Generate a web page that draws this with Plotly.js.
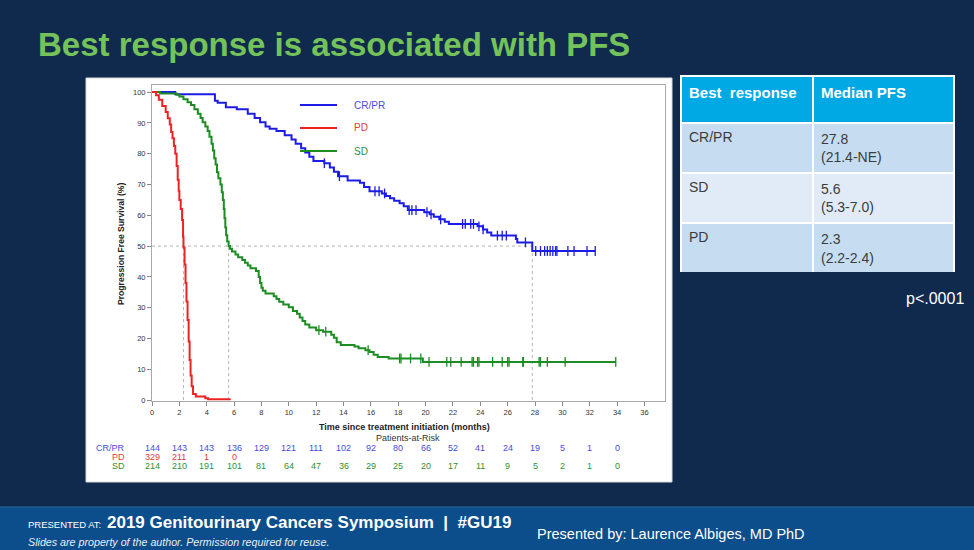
<!DOCTYPE html>
<html>
<head>
<meta charset="utf-8">
<script src="https://cdn.plot.ly/plotly-3.0.1.min.js"></script>
<style>
  html, body { margin: 0; padding: 0; background: #102a4e; }
  #chart { width: 974px; height: 550px; }
</style>
</head>
<body>
<div id="chart"></div>
<script>
// Kaplan-Meier PFS by best response: step points (months, % progression free)
const crprTime = [0, 1.7, 4.6, 4.8, 5.4, 6.2, 7.0, 7.5, 7.9, 8.3, 8.6, 9.1, 9.7, 10.2, 10.5, 10.9, 11.2, 11.5, 11.8, 12.6, 13.0, 13.3, 13.6, 14.3, 15.2, 15.5, 15.9, 16.8, 17.1, 17.4, 17.7, 18.1, 18.4, 18.7, 19.9, 20.3, 20.6, 21.0, 21.4, 21.7, 23.8, 24.2, 24.5, 24.8, 26.6, 26.7, 27.8, 32.4];
const crprSurv = [100, 99.3, 97.2, 96.5, 95.1, 94.4, 93.0, 91.6, 90.2, 88.8, 88.1, 87.4, 86.0, 84.6, 83.2, 81.8, 80.4, 79.0, 77.6, 76.9, 75.5, 74.1, 72.7, 71.3, 70.6, 69.2, 67.8, 67.1, 66.3, 65.5, 64.7, 63.9, 62.9, 61.7, 61.0, 60.3, 59.5, 58.7, 57.9, 57.2, 56.4, 55.4, 54.4, 53.4, 52.3, 51.2, 48.4, 48.4];
const crprCensored = [12.6, 13.7, 16.3, 16.6, 17.0, 18.8, 19.0, 19.3, 20.1, 20.4, 21.1, 22.7, 22.9, 23.3, 23.5, 23.9, 24.2, 25.25, 25.6, 25.9, 27.3, 28.05, 28.4, 28.7, 28.9, 29.1, 29.3, 29.5, 29.6, 30.4, 30.85, 31.8, 32.4];

const pdTime = [0, 0.3, 0.5, 0.75, 1.0, 1.15, 1.3, 1.4, 1.5, 1.6, 1.7, 1.8, 1.88, 1.95, 2.0, 2.1, 2.2, 2.27, 2.3, 2.38, 2.45, 2.52, 2.6, 2.68, 2.75, 2.82, 2.9, 3.0, 3.2, 3.9, 4.1, 5.75];
const pdSurv = [100, 99, 97.5, 95.5, 93.5, 91.5, 89.5, 87, 85, 82.5, 80, 76, 71.5, 68, 65, 62, 58.5, 53, 49.5, 44, 38, 32, 26, 19, 13, 8, 4.5, 2, 1.2, 0.6, 0.3, 0.3];

const sdTime = [0, 0.6, 1.8, 2.0, 2.3, 2.6, 2.85, 3.1, 3.35, 3.55, 3.7, 3.9, 4.07, 4.2, 4.35, 4.45, 4.55, 4.65, 4.75, 4.85, 5.0, 5.1, 5.18, 5.25, 5.3, 5.36, 5.42, 5.5, 5.6, 5.7, 5.85, 6.1, 6.3, 6.6, 6.8, 7.0, 7.2, 7.6, 7.8, 7.9, 8.0, 8.1, 8.3, 8.9, 9.1, 9.3, 9.6, 10.0, 10.3, 10.6, 10.8, 11.0, 11.2, 11.5, 12.0, 12.5, 13.1, 13.3, 13.5, 13.8, 14.8, 15.1, 15.6, 15.9, 16.2, 16.5, 17.3, 19.8, 33.9];
const sdSurv = [100, 99.5, 99.1, 98.6, 97.7, 96.7, 95.8, 94.4, 93.0, 91.6, 90.2, 88.8, 87.4, 85.5, 83.2, 81.0, 78.5, 76.5, 74.0, 72.0, 70.0, 67.5, 65.0, 62.0, 59.0, 56.0, 53.5, 51.5, 50.0, 49.1, 48.2, 47.3, 46.4, 45.5, 44.6, 43.7, 42.8, 41.9, 40.0, 38.0, 36.5, 35.5, 34.6, 33.7, 32.8, 31.9, 31.0, 30.1, 28.9, 28.0, 26.8, 25.7, 24.5, 23.6, 22.7, 22.2, 21.2, 20.2, 18.8, 17.9, 17.4, 16.8, 16.2, 15.6, 14.7, 14.0, 13.5, 12.4, 12.4];
const sdCensored = [12.2, 12.7, 15.8, 18.1, 18.2, 18.9, 19.65, 20.25, 21.55, 21.84, 22.6, 23.4, 23.5, 23.8, 23.9, 24.9, 25.6, 26.0, 26.1, 27.1, 27.15, 28.3, 28.4, 28.9, 30.2, 33.9];

// Median PFS summary (months)
const responseGroups = ['CR/PR', 'SD', 'PD'];
const medianPFS = [27.8, 5.6, 2.3];
const medianCI = ['(21.4-NE)', '(5.3-7.0)', '(2.2-2.4)'];

// Patients-at-risk table
const riskMonths = [0, 2, 4, 6, 8, 10, 12, 14, 16, 18, 20, 22, 24, 26, 28, 30, 32, 34];
const riskCRPR = [144, 143, 143, 136, 129, 121, 111, 102, 92, 80, 66, 52, 41, 24, 19, 5, 1, 0];
const riskPD = [329, 211, 1, 0];
const riskSD = [214, 210, 191, 101, 81, 64, 47, 36, 29, 25, 20, 17, 11, 9, 5, 2, 1, 0];

const xTicks = [0, 2, 4, 6, 8, 10, 12, 14, 16, 18, 20, 22, 24, 26, 28, 30, 32, 34, 36];
const yTicks = [0, 10, 20, 30, 40, 50, 60, 70, 80, 90, 100];

const FONT = 'Liberation Sans, Arial, sans-serif';
const NARROW = 'Liberation Sans Narrow, Arial Narrow, Liberation Sans, sans-serif';
const W = 974, H = 550;
const px = v => v / W;
const py = v => 1 - v / H;

const BLUE = '#1c1ce6', RED = '#ee2222', GREEN = '#1d8c22';
const BLUE_T = '#4a4ad8', RED_T = '#e23a3a', GREEN_T = '#2f9135';

// level of a step curve at time t
function stepAt(times, surv, t) {
  let s = surv[0];
  for (let i = 0; i < times.length; i++) { if (times[i] <= t) s = surv[i]; }
  return s;
}

function curve(times, surv, color) {
  return { type: 'scatter', mode: 'lines', x: times, y: surv, line: { shape: 'hv', color: color, width: 2 },
           hoverinfo: 'skip', showlegend: false, xaxis: 'x', yaxis: 'y' };
}
function censorMarks(times, stepT, stepS, color) {
  return { type: 'scatter', mode: 'markers', x: times, y: times.map(t => stepAt(stepT, stepS, t)),
           marker: { symbol: 'line-ns-open', size: 7, color: color, line: { color: color, width: 1.3 } },
           hoverinfo: 'skip', showlegend: false, xaxis: 'x', yaxis: 'y' };
}

// dashed guides at the medians
const guideX = [], guideY = [];
guideX.push(0, Math.max(...medianPFS), null);
guideY.push(50, 50, null);
medianPFS.forEach(m => { guideX.push(m, m, null); guideY.push(0, 50, null); });
const guides = { type: 'scatter', mode: 'lines', x: guideX, y: guideY,
  line: { color: '#b4b4b4', width: 1, dash: '3px,3px' }, hoverinfo: 'skip', showlegend: false };

// median table
const headerFill = '#00a9e4';
const rowFills = ['#c6dcf0', '#e0ebf7', '#c6dcf0'];
const table = {
  type: 'table',
  domain: { x: [px(681), px(954)], y: [py(272), py(76)] },
  columnwidth: [132, 141],
  header: {
    values: ['<b>Best  response</b>', '<b>Median PFS</b>'],
    align: 'left', height: 47,
    fill: { color: headerFill },
    line: { color: '#ffffff', width: 2 },
    font: { family: FONT, size: 15, color: '#ffffff' }
  },
  cells: {
    values: [responseGroups, medianPFS.map((m, i) => m.toFixed(1) + '<br>' + medianCI[i])],
    align: 'left', height: 48,
    fill: { color: [rowFills, rowFills] },
    line: { color: '#ffffff', width: 2 },
    font: { family: FONT, size: 14, color: '#3c3c3c' }
  }
};

const data = [
  guides,
  curve(crprTime, crprSurv, BLUE),
  curve(sdTime, sdSurv, GREEN),
  curve(pdTime, pdSurv, RED),
  censorMarks(crprCensored, crprTime, crprSurv, BLUE),
  censorMarks(sdCensored, sdTime, sdSurv, GREEN),
  table
];

const annotations = [];
function note(text, x, y, opts) {
  annotations.push(Object.assign({ text: text, x: x, y: y, xref: 'paper', yref: 'paper', showarrow: false,
    xanchor: 'left', yanchor: 'middle', font: { family: FONT, size: 10, color: '#333' } }, opts || {}));
}

// slide title
note('<b>Best response is associated with PFS</b>', px(36), py(45), { font: { family: FONT, size: 33, color: '#74c25a' } });

// axis titles
note('<b>Progression Free Survival (%)</b>', px(121), py(244), { textangle: -90, xanchor: 'center', font: { family: FONT, size: 8.6, color: '#222' } });
note('<b>Time since treatment initiation (months)</b>', px(404), py(427), { xanchor: 'center', font: { family: FONT, size: 9, color: '#222' } });

// legend
const legendItems = [['CR/PR', BLUE, BLUE_T], ['PD', RED, RED_T], ['SD', GREEN, GREEN_T]];
const shapes = [
  // slide panel and footer
  { type: 'rect', xref: 'paper', yref: 'paper', x0: px(86), x1: px(672), y0: py(482), y1: py(78),
    fillcolor: '#ffffff', line: { color: '#d8d8d8', width: 1 }, layer: 'below' },
  { type: 'rect', xref: 'paper', yref: 'paper', x0: 0, x1: 1, y0: 0, y1: py(507),
    fillcolor: '#0c4d8b', line: { width: 0 }, layer: 'below' },
  { type: 'line', xref: 'paper', yref: 'paper', x0: 0, x1: 1, y0: py(507), y1: py(507),
    line: { color: '#2c6aa6', width: 1 }, layer: 'below' }
];
legendItems.forEach((it, i) => {
  const yy = py(105 + 23 * i);
  shapes.push({ type: 'line', xref: 'paper', yref: 'paper', x0: px(300), x1: px(337), y0: yy, y1: yy,
    line: { color: it[1], width: 2 } });
  note(it[0], px(352), yy, { font: { family: FONT, size: 10, color: it[2] } });
});

// patients at risk
note('Patients-at-Risk', px(408), py(438), { xanchor: 'center', font: { family: FONT, size: 9, color: '#333' } });
const riskRows = [['CR/PR', riskCRPR, BLUE_T, 447.5], ['PD', riskPD, RED_T, 456.5], ['SD', riskSD, GREEN_T, 465.5]];
riskRows.forEach(r => {
  note(r[0], px(127), py(r[3]), { xanchor: 'right', font: { family: FONT, size: 9, color: r[2] } });
  r[1].forEach((n, i) => {
    annotations.push({ text: String(n), x: riskMonths[i], y: py(r[3]), xref: 'x', yref: 'paper', showarrow: false,
      xanchor: 'center', yanchor: 'middle', font: { family: FONT, size: 9, color: r[2] } });
  });
});

// p-value
note('p<.0001', px(904), py(298), { font: { family: FONT, size: 16, color: '#ffffff' } });

// footer
note('PRESENTED AT:', px(26), py(524), { font: { family: NARROW, size: 9.5, color: '#ffffff' } });
note('<b>2019 Genitourinary Cancers Symposium  |  #GU19</b>', px(105), py(522), { font: { family: NARROW, size: 17, color: '#ffffff' } });
note('<i>Slides are property of the author. Permission required for reuse.</i>', px(26), py(542), { font: { family: NARROW, size: 10.7, color: '#e8eef6' } });
note('Presented by: Laurence Albiges, MD PhD', px(535), py(534), { font: { family: NARROW, size: 14.5, color: '#ffffff' } });

const axisCommon = {
  showgrid: false, zeroline: false, showline: true, mirror: true, linecolor: '#a9a9a9', linewidth: 1,
  ticks: 'outside', ticklen: 4, tickcolor: '#8a8a8a', tickwidth: 1,
  tickfont: { family: FONT, size: 7.5, color: '#333' }, fixedrange: true
};

const layout = {
  width: W, height: H,
  margin: { l: 0, r: 0, t: 0, b: 0 },
  paper_bgcolor: '#102a4e', plot_bgcolor: '#ffffff',
  showlegend: false,
  xaxis: Object.assign({}, axisCommon, { domain: [px(152), px(665)], range: [0, 37.5], tickvals: xTicks, ticktext: xTicks.map(String) }),
  yaxis: Object.assign({}, axisCommon, { domain: [py(401), py(85)], range: [-0.3, 102.3], tickvals: yTicks, ticktext: yTicks.map(String) }),
  shapes: shapes,
  annotations: annotations
};

Plotly.newPlot('chart', data, layout, { displayModeBar: false, staticPlot: true });
</script>
</body>
</html>
